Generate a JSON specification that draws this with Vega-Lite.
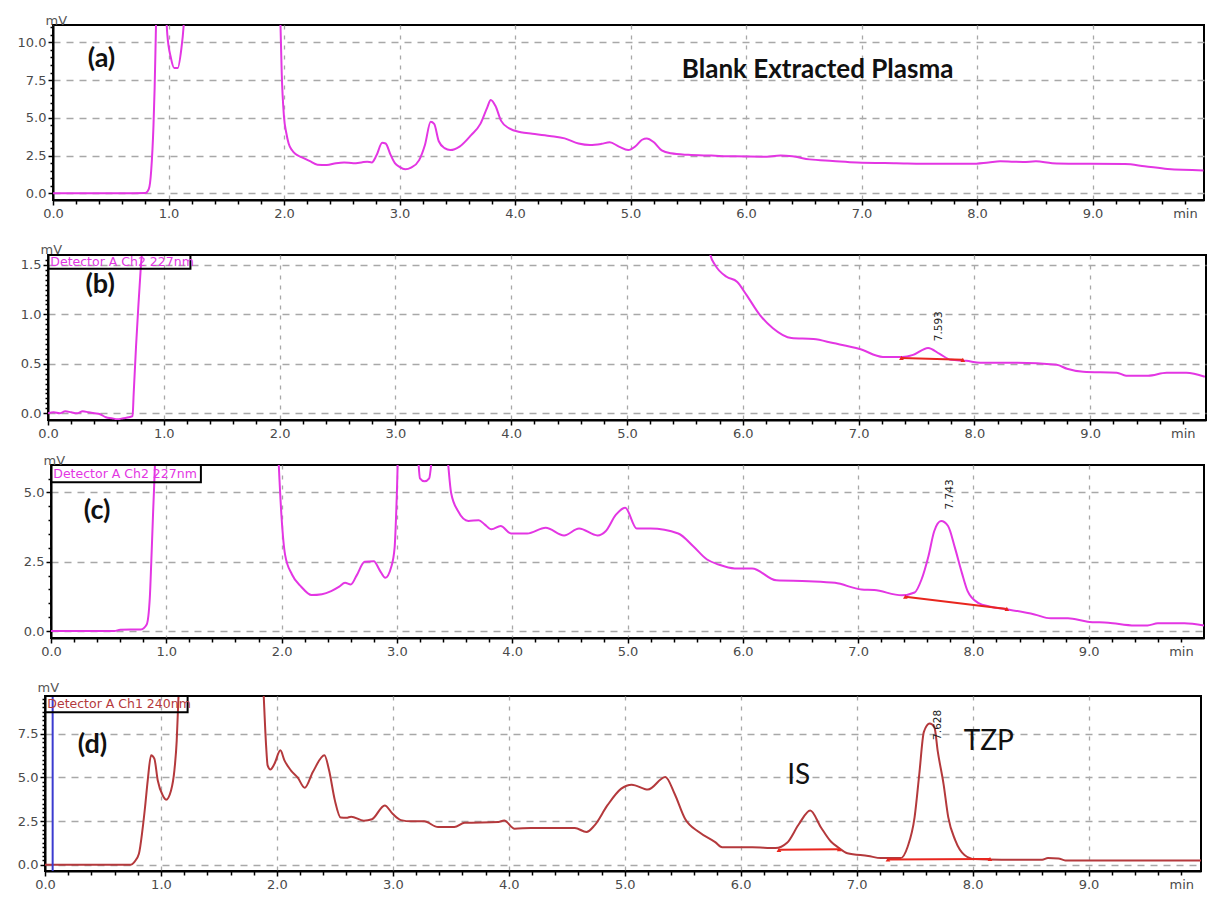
{
  "$schema": "https://vega.github.io/schema/vega-lite/v6.json",
  "background": "white",
  "padding": {"left": 5, "top": 13, "right": 0, "bottom": 0},
  "config": {
    "view": {"stroke": "#000", "strokeWidth": 2},
    "axis": {"domainColor": "#000", "domainWidth": 2, "tickColor": "#000", "tickWidth": 1.5, "labelFont": "DejaVu Sans", "labelFontSize": 13, "labelColor": "#4a4a4a", "gridColor": "#a8a8a8", "gridWidth": 1.3, "titleFont": "DejaVu Sans", "titleFontSize": 13, "titleFontWeight": "normal", "titleColor": "#555", "labelFlush": false, "labelOverlap": false}
  },
  "datasets": {
    "a": [{"t":0,"v":0},{"t":0.3,"v":0},{"t":0.6,"v":0},{"t":0.8,"v":0.02},{"t":0.83,"v":0.3},{"t":0.85,"v":1.5},{"t":0.87,"v":4.5},{"t":0.88,"v":7},{"t":0.89,"v":10.5},{"t":0.9,"v":14},{"t":0.93,"v":16},{"t":0.97,"v":13},{"t":0.99,"v":10.5},{"t":1.02,"v":9},{"t":1.05,"v":8.3},{"t":1.08,"v":8.3},{"t":1.11,"v":9.5},{"t":1.13,"v":11},{"t":1.15,"v":14},{"t":1.2,"v":30},{"t":1.5,"v":50},{"t":1.9,"v":30},{"t":1.95,"v":14},{"t":1.97,"v":11},{"t":1.98,"v":8},{"t":2.0,"v":5.05},{"t":2.02,"v":4.0},{"t":2.04,"v":3.3},{"t":2.07,"v":2.85},{"t":2.1,"v":2.6},{"t":2.15,"v":2.4},{"t":2.22,"v":2.15},{"t":2.29,"v":1.9},{"t":2.37,"v":1.88},{"t":2.45,"v":2.0},{"t":2.52,"v":2.05},{"t":2.6,"v":2.0},{"t":2.67,"v":2.05},{"t":2.72,"v":2.1},{"t":2.76,"v":2.05},{"t":2.8,"v":2.5},{"t":2.85,"v":3.35},{"t":2.88,"v":3.3},{"t":2.92,"v":2.6},{"t":2.96,"v":2.0},{"t":3.0,"v":1.75},{"t":3.05,"v":1.59},{"t":3.1,"v":1.7},{"t":3.17,"v":2.2},{"t":3.22,"v":3.2},{"t":3.27,"v":4.74},{"t":3.3,"v":4.6},{"t":3.34,"v":3.45},{"t":3.39,"v":3.0},{"t":3.44,"v":2.87},{"t":3.52,"v":3.1},{"t":3.62,"v":3.86},{"t":3.7,"v":4.6},{"t":3.76,"v":5.7},{"t":3.79,"v":6.18},{"t":3.83,"v":5.8},{"t":3.88,"v":4.8},{"t":3.95,"v":4.3},{"t":4.05,"v":4.05},{"t":4.15,"v":3.95},{"t":4.3,"v":3.8},{"t":4.43,"v":3.64},{"t":4.55,"v":3.3},{"t":4.65,"v":3.2},{"t":4.75,"v":3.28},{"t":4.82,"v":3.38},{"t":4.9,"v":3.1},{"t":4.98,"v":2.87},{"t":5.04,"v":3.1},{"t":5.1,"v":3.55},{"t":5.14,"v":3.64},{"t":5.2,"v":3.4},{"t":5.27,"v":2.85},{"t":5.35,"v":2.65},{"t":5.5,"v":2.55},{"t":5.7,"v":2.5},{"t":5.9,"v":2.45},{"t":6.15,"v":2.43},{"t":6.3,"v":2.5},{"t":6.4,"v":2.45},{"t":6.55,"v":2.25},{"t":6.75,"v":2.15},{"t":6.96,"v":2.05},{"t":7.3,"v":2.0},{"t":7.64,"v":1.96},{"t":7.95,"v":1.96},{"t":8.1,"v":2.05},{"t":8.2,"v":2.12},{"t":8.4,"v":2.08},{"t":8.51,"v":2.12},{"t":8.65,"v":2.0},{"t":8.87,"v":1.96},{"t":9.28,"v":1.94},{"t":9.45,"v":1.8},{"t":9.65,"v":1.61},{"t":9.96,"v":1.52}],
    "b": [{"t":0,"v":0.0},{"t":0.05,"v":0.01},{"t":0.1,"v":0.0},{"t":0.15,"v":0.02},{"t":0.2,"v":0.01},{"t":0.25,"v":0.0},{"t":0.3,"v":0.02},{"t":0.35,"v":0.01},{"t":0.4,"v":0.0},{"t":0.45,"v":-0.01},{"t":0.5,"v":-0.04},{"t":0.55,"v":-0.05},{"t":0.6,"v":-0.06},{"t":0.65,"v":-0.05},{"t":0.7,"v":-0.04},{"t":0.73,"v":-0.03},{"t":0.74,"v":0.2},{"t":0.76,"v":0.67},{"t":0.78,"v":1.08},{"t":0.8,"v":1.45},{"t":0.82,"v":1.8},{"t":0.85,"v":3},{"t":1.0,"v":10},{"t":5.0,"v":10},{"t":5.6,"v":3},{"t":5.72,"v":1.6},{"t":5.76,"v":1.5},{"t":5.86,"v":1.38},{"t":5.95,"v":1.33},{"t":6.03,"v":1.2},{"t":6.15,"v":0.99},{"t":6.26,"v":0.86},{"t":6.42,"v":0.76},{"t":6.61,"v":0.75},{"t":6.78,"v":0.71},{"t":7.01,"v":0.65},{"t":7.21,"v":0.57},{"t":7.38,"v":0.57},{"t":7.47,"v":0.59},{"t":7.6,"v":0.66},{"t":7.7,"v":0.6},{"t":7.8,"v":0.54},{"t":7.93,"v":0.53},{"t":8.05,"v":0.51},{"t":8.37,"v":0.51},{"t":8.71,"v":0.49},{"t":8.8,"v":0.45},{"t":8.94,"v":0.42},{"t":9.23,"v":0.41},{"t":9.31,"v":0.38},{"t":9.5,"v":0.38},{"t":9.66,"v":0.41},{"t":9.83,"v":0.41},{"t":9.99,"v":0.37}],
    "c": [{"t":0,"v":0},{"t":0.55,"v":0.0},{"t":0.6,"v":0.05},{"t":0.78,"v":0.06},{"t":0.83,"v":0.24},{"t":0.857,"v":1.2},{"t":0.87,"v":2.52},{"t":0.886,"v":4.33},{"t":0.906,"v":6.5},{"t":0.95,"v":15},{"t":1.5,"v":40},{"t":1.9,"v":15},{"t":1.97,"v":6.5},{"t":2.0,"v":4.08},{"t":2.03,"v":2.76},{"t":2.09,"v":2.04},{"t":2.17,"v":1.6},{"t":2.26,"v":1.3},{"t":2.35,"v":1.33},{"t":2.43,"v":1.44},{"t":2.5,"v":1.6},{"t":2.55,"v":1.74},{"t":2.6,"v":1.68},{"t":2.65,"v":2.0},{"t":2.72,"v":2.5},{"t":2.8,"v":2.52},{"t":2.85,"v":2.2},{"t":2.9,"v":1.92},{"t":2.95,"v":2.3},{"t":2.98,"v":3.0},{"t":3.0,"v":5},{"t":3.02,"v":8},{"t":3.1,"v":10},{"t":3.18,"v":6.5},{"t":3.2,"v":5.51},{"t":3.24,"v":5.4},{"t":3.28,"v":5.51},{"t":3.31,"v":6.5},{"t":3.38,"v":8},{"t":3.44,"v":6.2},{"t":3.47,"v":4.99},{"t":3.53,"v":4.33},{"t":3.62,"v":3.97},{"t":3.71,"v":4.0},{"t":3.76,"v":3.85},{"t":3.82,"v":3.67},{"t":3.9,"v":3.79},{"t":3.99,"v":3.52},{"t":4.13,"v":3.52},{"t":4.29,"v":3.73},{"t":4.45,"v":3.45},{"t":4.58,"v":3.7},{"t":4.74,"v":3.45},{"t":4.81,"v":3.6},{"t":4.9,"v":4.2},{"t":4.98,"v":4.45},{"t":5.08,"v":3.7},{"t":5.2,"v":3.7},{"t":5.44,"v":3.52},{"t":5.57,"v":3.06},{"t":5.69,"v":2.58},{"t":5.79,"v":2.4},{"t":5.93,"v":2.26},{"t":6.08,"v":2.26},{"t":6.29,"v":1.83},{"t":6.57,"v":1.8},{"t":6.8,"v":1.74},{"t":7.03,"v":1.5},{"t":7.14,"v":1.48},{"t":7.38,"v":1.29},{"t":7.49,"v":1.39},{"t":7.55,"v":1.86},{"t":7.61,"v":2.7},{"t":7.66,"v":3.6},{"t":7.72,"v":3.97},{"t":7.78,"v":3.79},{"t":7.84,"v":3.0},{"t":7.9,"v":2.1},{"t":7.95,"v":1.44},{"t":8.04,"v":1.02},{"t":8.15,"v":0.88},{"t":8.3,"v":0.78},{"t":8.53,"v":0.6},{"t":8.67,"v":0.46},{"t":8.82,"v":0.46},{"t":8.99,"v":0.34},{"t":9.17,"v":0.3},{"t":9.4,"v":0.2},{"t":9.51,"v":0.2},{"t":9.6,"v":0.28},{"t":9.83,"v":0.28},{"t":10.0,"v":0.2}],
    "d": [{"t":0,"v":0},{"t":0.74,"v":0.0},{"t":0.77,"v":0.15},{"t":0.81,"v":0.63},{"t":0.84,"v":1.96},{"t":0.863,"v":3.3},{"t":0.886,"v":4.83},{"t":0.915,"v":6.26},{"t":0.943,"v":6.07},{"t":0.972,"v":4.83},{"t":1.015,"v":3.97},{"t":1.044,"v":3.72},{"t":1.087,"v":4.25},{"t":1.116,"v":5.4},{"t":1.136,"v":7.1},{"t":1.15,"v":9.4},{"t":1.2,"v":15},{"t":1.5,"v":30},{"t":1.85,"v":15},{"t":1.884,"v":10},{"t":1.907,"v":6.8},{"t":1.92,"v":5.68},{"t":1.944,"v":5.45},{"t":1.979,"v":5.77},{"t":2.03,"v":6.54},{"t":2.065,"v":5.97},{"t":2.12,"v":5.4},{"t":2.18,"v":4.98},{"t":2.24,"v":4.4},{"t":2.31,"v":5.3},{"t":2.41,"v":6.26},{"t":2.45,"v":5.4},{"t":2.5,"v":3.68},{"t":2.55,"v":2.7},{"t":2.6,"v":2.68},{"t":2.64,"v":2.75},{"t":2.75,"v":2.52},{"t":2.82,"v":2.6},{"t":2.93,"v":3.39},{"t":3.0,"v":2.9},{"t":3.07,"v":2.55},{"t":3.16,"v":2.48},{"t":3.27,"v":2.48},{"t":3.39,"v":2.15},{"t":3.53,"v":2.15},{"t":3.62,"v":2.4},{"t":3.91,"v":2.44},{"t":3.96,"v":2.53},{"t":4.05,"v":2.06},{"t":4.19,"v":2.1},{"t":4.57,"v":2.1},{"t":4.67,"v":1.87},{"t":4.74,"v":2.25},{"t":4.85,"v":3.39},{"t":4.97,"v":4.35},{"t":5.06,"v":4.58},{"t":5.2,"v":4.3},{"t":5.35,"v":5.02},{"t":5.43,"v":4.06},{"t":5.52,"v":2.63},{"t":5.64,"v":1.87},{"t":5.78,"v":1.29},{"t":5.84,"v":1.0},{"t":6.1,"v":1.0},{"t":6.3,"v":0.95},{"t":6.4,"v":1.25},{"t":6.5,"v":2.3},{"t":6.6,"v":3.1},{"t":6.69,"v":2.16},{"t":6.78,"v":1.31},{"t":6.84,"v":1.0},{"t":6.92,"v":0.66},{"t":7.1,"v":0.5},{"t":7.21,"v":0.38},{"t":7.38,"v":0.38},{"t":7.44,"v":1.03},{"t":7.5,"v":2.72},{"t":7.54,"v":5.16},{"t":7.58,"v":7.6},{"t":7.63,"v":8.07},{"t":7.67,"v":7.88},{"t":7.7,"v":6.47},{"t":7.75,"v":4.6},{"t":7.79,"v":2.72},{"t":7.85,"v":1.41},{"t":7.93,"v":0.56},{"t":8.02,"v":0.32},{"t":8.25,"v":0.28},{"t":8.6,"v":0.28},{"t":8.65,"v":0.38},{"t":8.74,"v":0.36},{"t":8.8,"v":0.24},{"t":9.4,"v":0.24},{"t":9.97,"v":0.24}]
  },
  "spacing": 21,
  "vconcat": [
    {
      "spacing": 0,
      "hconcat": [
        {"width": 1, "height": 1, "view": {"stroke": null}, "data": {"values": []}, "mark": "point"},
        {
          "width": 1151, "height": 175,
          "resolve": {"axis": {"x": "independent", "y": "independent"}},
          "layer": [
            {"data": {"name": "a"}, "mark": {"type": "line", "color": "#e336e3", "strokeWidth": 2, "clip": true, "interpolate": "monotone"},
             "encoding": {
               "x": {"field": "t", "type": "quantitative", "scale": {"domain": [0, 9.965], "nice": false, "zero": false}, "axis": {"orient": "bottom", "values": [0,1,2,3,4,5,6,7,8,9], "format": ".1f", "tickSize": 5, "labelPadding": 2, "grid": true, "gridDash": [4,6], "title": null}},
               "y": {"field": "v", "type": "quantitative", "scale": {"domain": [-0.44, 11.15], "nice": false, "zero": false}, "axis": {"orient": "left", "values": [0,2.5,5,7.5,10], "format": ".1f", "tickSize": 5, "labelPadding": 2, "grid": true, "gridDash": [7,6], "title": "mV", "titleAngle": 0, "titleX": -8, "titleY": -1, "titleAlign": "left", "titleBaseline": "alphabetic", "minExtent": 46, "maxExtent": 46}}
             }},
            {"data": {"values": [{"t": 0.42, "v": 8.9, "label": "(a)"}]}, "mark": {"type": "text", "font": "Lato", "fontWeight": "bold", "fontSize": 27, "color": "#111", "align": "center", "baseline": "middle"},
             "encoding": {
               "x": {"field": "t", "type": "quantitative", "scale": {"domain": [0, 9.965], "nice": false, "zero": false}, "axis": {"orient": "bottom", "values": [0.2,0.4,0.6,0.8,1.2,1.4,1.6,1.8,2.2,2.4,2.6,2.8,3.2,3.4,3.6,3.8,4.2,4.4,4.6,4.8,5.2,5.4,5.6,5.8,6.2,6.4,6.6,6.8,7.2,7.4,7.6,7.8,8.2,8.4,8.6,8.8,9.2,9.4,9.6,9.8], "labelExpr": "datum.value == 9.8 ? 'min' : ''", "labelDx": 10, "tickSize": 4, "labelPadding": 3, "grid": false, "domain": false, "title": null}},
               "y": {"field": "v", "type": "quantitative", "scale": {"domain": [-0.44, 11.15], "nice": false, "zero": false}, "axis": {"orient": "left", "values": [0.5,1,1.5,2,3,3.5,4,4.5,5.5,6,6.5,7,8,8.5,9,9.5,10.5,11], "labels": false, "tickSize": 3, "grid": false, "domain": false, "title": null}},
               "text": {"field": "label"}
             }},
            {"data": {"values": [{"t": 6.62, "v": 8.2, "label": "Blank Extracted Plasma"}]}, "mark": {"type": "text", "font": "Lato", "fontWeight": "bold", "fontSize": 26, "color": "#111", "align": "center", "baseline": "middle"},
             "encoding": {
               "x": {"field": "t", "type": "quantitative", "scale": {"domain": [0, 9.965], "nice": false, "zero": false}, "axis": null},
               "y": {"field": "v", "type": "quantitative", "scale": {"domain": [-0.44, 11.15], "nice": false, "zero": false}, "axis": null},
               "text": {"field": "label"}
             }}
          ]
        }
      ]
    },
    {
      "spacing": 12,
      "vconcat": [
        {
          "spacing": 0,
          "hconcat": [
            {"width": 1, "height": 1, "view": {"stroke": null}, "data": {"values": []}, "mark": "point"},
            {
              "width": 1158, "height": 165,
              "resolve": {"axis": {"x": "independent", "y": "independent"}},
              "layer": [
                {"data": {"name": "b"}, "mark": {"type": "line", "color": "#e336e3", "strokeWidth": 2, "clip": true, "interpolate": "monotone"},
                 "encoding": {
                   "x": {"field": "t", "type": "quantitative", "scale": {"domain": [0, 10.0], "nice": false, "zero": false}, "axis": {"orient": "bottom", "values": [0,1,2,3,4,5,6,7,8,9], "format": ".1f", "tickSize": 5, "labelPadding": 2, "grid": true, "gridDash": [4,6], "title": null}},
                   "y": {"field": "v", "type": "quantitative", "scale": {"domain": [-0.068, 1.6], "nice": false, "zero": false}, "axis": {"orient": "left", "values": [0,0.5,1,1.5], "format": ".1f", "tickSize": 5, "labelPadding": 2, "grid": true, "gridDash": [7,6], "title": "mV", "titleAngle": 0, "titleX": -8, "titleY": -2, "titleAlign": "left", "titleBaseline": "alphabetic", "minExtent": 41, "maxExtent": 41}}
                 }},
                {"data": {"values": [{"t": 0.45, "v": 1.3, "label": "(b)"}]}, "mark": {"type": "text", "font": "Lato", "fontWeight": "bold", "fontSize": 27, "color": "#111", "align": "center", "baseline": "middle"},
                 "encoding": {
                   "x": {"field": "t", "type": "quantitative", "scale": {"domain": [0, 10.0], "nice": false, "zero": false}, "axis": {"orient": "bottom", "values": [0.2,0.4,0.6,0.8,1.2,1.4,1.6,1.8,2.2,2.4,2.6,2.8,3.2,3.4,3.6,3.8,4.2,4.4,4.6,4.8,5.2,5.4,5.6,5.8,6.2,6.4,6.6,6.8,7.2,7.4,7.6,7.8,8.2,8.4,8.6,8.8,9.2,9.4,9.6,9.8], "labelExpr": "datum.value == 9.8 ? 'min' : ''", "labelDx": 10, "tickSize": 4, "labelPadding": 3, "grid": false, "domain": false, "title": null}},
                   "y": {"field": "v", "type": "quantitative", "scale": {"domain": [-0.068, 1.6], "nice": false, "zero": false}, "axis": {"orient": "left", "values": [0.05,0.1,0.15,0.2,0.25,0.3,0.35,0.4,0.45,0.55,0.6,0.65,0.7,0.75,0.8,0.85,0.9,0.95,1.05,1.1,1.15,1.2,1.25,1.3,1.35,1.4,1.45,1.55], "labels": false, "tickSize": 3, "grid": false, "domain": false, "title": null}},
                   "text": {"field": "label"}
                 }},
                {"data": {"values": [{"t": 0, "t2": 1.23, "v": 1.6, "v2": 1.46}]}, "mark": {"type": "rect", "fillOpacity": 0, "stroke": "#000", "strokeWidth": 2, "clip": true},
                 "encoding": {
                   "x": {"field": "t", "type": "quantitative", "scale": {"domain": [0, 10.0], "nice": false, "zero": false}, "axis": null},
                   "x2": {"field": "t2"},
                   "y": {"field": "v", "type": "quantitative", "scale": {"domain": [-0.068, 1.6], "nice": false, "zero": false}, "axis": null},
                   "y2": {"field": "v2"}
                 }},
                {"data": {"values": [{"t": 0.02, "v": 1.53, "label": "Detector A Ch2 227nm"}]}, "mark": {"type": "text", "font": "DejaVu Sans", "fontSize": 12.5, "color": "#e336e3", "align": "left", "baseline": "middle", "clip": true},
                 "encoding": {
                   "x": {"field": "t", "type": "quantitative", "scale": {"domain": [0, 10.0], "nice": false, "zero": false}, "axis": null},
                   "y": {"field": "v", "type": "quantitative", "scale": {"domain": [-0.068, 1.6], "nice": false, "zero": false}, "axis": null},
                   "text": {"field": "label"}
                 }},
                {"data": {"values": [{"t": 7.37, "v": 0.56, "g": 1}, {"t": 7.9, "v": 0.54, "g": 1}]}, "mark": {"type": "line", "color": "#e8261e", "strokeWidth": 2, "clip": true},
                 "encoding": {
                   "x": {"field": "t", "type": "quantitative", "scale": {"domain": [0, 10.0], "nice": false, "zero": false}, "axis": null},
                   "y": {"field": "v", "type": "quantitative", "scale": {"domain": [-0.068, 1.6], "nice": false, "zero": false}, "axis": null},
                   "detail": {"field": "g"}
                 }},
                {"data": {"values": [{"t": 7.37, "v": 0.56}, {"t": 7.9, "v": 0.54}]}, "mark": {"type": "point", "shape": "triangle-up", "size": 22, "filled": true, "color": "#e8261e", "opacity": 1},
                 "encoding": {
                   "x": {"field": "t", "type": "quantitative", "scale": {"domain": [0, 10.0], "nice": false, "zero": false}, "axis": null},
                   "y": {"field": "v", "type": "quantitative", "scale": {"domain": [-0.068, 1.6], "nice": false, "zero": false}, "axis": null}
                 }},
                {"data": {"values": [{"t": 7.69, "v": 0.88, "label": "7.593"}]}, "mark": {"type": "text", "font": "DejaVu Sans", "fontSize": 10.5, "color": "#222", "angle": 270, "align": "center", "baseline": "middle"},
                 "encoding": {
                   "x": {"field": "t", "type": "quantitative", "scale": {"domain": [0, 10.0], "nice": false, "zero": false}, "axis": null},
                   "y": {"field": "v", "type": "quantitative", "scale": {"domain": [-0.068, 1.6], "nice": false, "zero": false}, "axis": null},
                   "text": {"field": "label"}
                 }}
              ]
            }
          ]
        },
        {
          "spacing": 0,
          "hconcat": [
            {"width": 1, "height": 1, "view": {"stroke": null}, "data": {"values": []}, "mark": "point"},
            {
              "width": 1153, "height": 173,
              "resolve": {"axis": {"x": "independent", "y": "independent"}},
              "layer": [
                {"data": {"name": "c"}, "mark": {"type": "line", "color": "#e336e3", "strokeWidth": 2, "clip": true, "interpolate": "monotone"},
                 "encoding": {
                   "x": {"field": "t", "type": "quantitative", "scale": {"domain": [0, 10.0], "nice": false, "zero": false}, "axis": {"orient": "bottom", "values": [0,1,2,3,4,5,6,7,8,9], "format": ".1f", "tickSize": 5, "labelPadding": 2, "grid": true, "gridDash": [4,6], "title": null}},
                   "y": {"field": "v", "type": "quantitative", "scale": {"domain": [-0.25, 5.99], "nice": false, "zero": false}, "axis": {"orient": "left", "values": [0,2.5,5], "format": ".1f", "tickSize": 5, "labelPadding": 2, "grid": true, "gridDash": [7,6], "title": "mV", "titleAngle": 0, "titleX": -8, "titleY": -1, "titleAlign": "left", "titleBaseline": "alphabetic", "minExtent": 43.5, "maxExtent": 43.5}}
                 }},
                {"data": {"values": [{"t": 0.4, "v": 4.33, "label": "(c)"}]}, "mark": {"type": "text", "font": "Lato", "fontWeight": "bold", "fontSize": 27, "color": "#111", "align": "center", "baseline": "middle"},
                 "encoding": {
                   "x": {"field": "t", "type": "quantitative", "scale": {"domain": [0, 10.0], "nice": false, "zero": false}, "axis": {"orient": "bottom", "values": [0.2,0.4,0.6,0.8,1.2,1.4,1.6,1.8,2.2,2.4,2.6,2.8,3.2,3.4,3.6,3.8,4.2,4.4,4.6,4.8,5.2,5.4,5.6,5.8,6.2,6.4,6.6,6.8,7.2,7.4,7.6,7.8,8.2,8.4,8.6,8.8,9.2,9.4,9.6,9.8], "labelExpr": "datum.value == 9.8 ? 'min' : ''", "labelDx": 10, "tickSize": 4, "labelPadding": 3, "grid": false, "domain": false, "title": null}},
                   "y": {"field": "v", "type": "quantitative", "scale": {"domain": [-0.25, 5.99], "nice": false, "zero": false}, "axis": {"orient": "left", "values": [0.5,1,1.5,2,3,3.5,4,4.5,5.5], "labels": false, "tickSize": 3, "grid": false, "domain": false, "title": null}},
                   "text": {"field": "label"}
                 }},
                {"data": {"values": [{"t": 0, "t2": 1.3, "v": 5.99, "v2": 5.37}]}, "mark": {"type": "rect", "fillOpacity": 0, "stroke": "#000", "strokeWidth": 2, "clip": true},
                 "encoding": {
                   "x": {"field": "t", "type": "quantitative", "scale": {"domain": [0, 10.0], "nice": false, "zero": false}, "axis": null},
                   "x2": {"field": "t2"},
                   "y": {"field": "v", "type": "quantitative", "scale": {"domain": [-0.25, 5.99], "nice": false, "zero": false}, "axis": null},
                   "y2": {"field": "v2"}
                 }},
                {"data": {"values": [{"t": 0.02, "v": 5.68, "label": "Detector A Ch2 227nm"}]}, "mark": {"type": "text", "font": "DejaVu Sans", "fontSize": 12.5, "color": "#e336e3", "align": "left", "baseline": "middle", "clip": true},
                 "encoding": {
                   "x": {"field": "t", "type": "quantitative", "scale": {"domain": [0, 10.0], "nice": false, "zero": false}, "axis": null},
                   "y": {"field": "v", "type": "quantitative", "scale": {"domain": [-0.25, 5.99], "nice": false, "zero": false}, "axis": null},
                   "text": {"field": "label"}
                 }},
                {"data": {"values": [{"t": 7.41, "v": 1.24, "g": 1}, {"t": 8.29, "v": 0.8, "g": 1}]}, "mark": {"type": "line", "color": "#e8261e", "strokeWidth": 2, "clip": true},
                 "encoding": {
                   "x": {"field": "t", "type": "quantitative", "scale": {"domain": [0, 10.0], "nice": false, "zero": false}, "axis": null},
                   "y": {"field": "v", "type": "quantitative", "scale": {"domain": [-0.25, 5.99], "nice": false, "zero": false}, "axis": null},
                   "detail": {"field": "g"}
                 }},
                {"data": {"values": [{"t": 7.41, "v": 1.24}, {"t": 8.29, "v": 0.8}]}, "mark": {"type": "point", "shape": "triangle-up", "size": 22, "filled": true, "color": "#e8261e", "opacity": 1},
                 "encoding": {
                   "x": {"field": "t", "type": "quantitative", "scale": {"domain": [0, 10.0], "nice": false, "zero": false}, "axis": null},
                   "y": {"field": "v", "type": "quantitative", "scale": {"domain": [-0.25, 5.99], "nice": false, "zero": false}, "axis": null}
                 }},
                {"data": {"values": [{"t": 7.8, "v": 4.93, "label": "7.743"}]}, "mark": {"type": "text", "font": "DejaVu Sans", "fontSize": 10.5, "color": "#222", "angle": 270, "align": "center", "baseline": "middle"},
                 "encoding": {
                   "x": {"field": "t", "type": "quantitative", "scale": {"domain": [0, 10.0], "nice": false, "zero": false}, "axis": null},
                   "y": {"field": "v", "type": "quantitative", "scale": {"domain": [-0.25, 5.99], "nice": false, "zero": false}, "axis": null},
                   "text": {"field": "label"}
                 }}
              ]
            }
          ]
        }
      ]
    },
    {
      "spacing": 0,
      "hconcat": [
        {"width": 1, "height": 1, "view": {"stroke": null}, "data": {"values": []}, "mark": "point"},
        {
          "width": 1156, "height": 175,
          "resolve": {"axis": {"x": "independent", "y": "independent"}},
          "layer": [
            {"data": {"name": "d"}, "mark": {"type": "line", "color": "#b4393c", "strokeWidth": 2, "clip": true, "interpolate": "monotone"},
             "encoding": {
               "x": {"field": "t", "type": "quantitative", "scale": {"domain": [0, 9.97], "nice": false, "zero": false}, "axis": {"orient": "bottom", "values": [0,1,2,3,4,5,6,7,8,9], "format": ".1f", "tickSize": 5, "labelPadding": 2, "grid": true, "gridDash": [4,6], "title": null}},
               "y": {"field": "v", "type": "quantitative", "scale": {"domain": [-0.36, 9.65], "nice": false, "zero": false}, "axis": {"orient": "left", "values": [0,2.5,5,7.5], "format": ".1f", "tickSize": 5, "labelPadding": 2, "grid": true, "gridDash": [7,6], "title": "mV", "titleAngle": 0, "titleX": -8, "titleY": -5, "titleAlign": "left", "titleBaseline": "alphabetic", "minExtent": 38, "maxExtent": 38}}
             }},
            {"data": {"values": [{"t": 0.41, "v": 6.83, "label": "(d)"}]}, "mark": {"type": "text", "font": "Lato", "fontWeight": "bold", "fontSize": 27, "color": "#111", "align": "center", "baseline": "middle"},
             "encoding": {
               "x": {"field": "t", "type": "quantitative", "scale": {"domain": [0, 9.97], "nice": false, "zero": false}, "axis": {"orient": "bottom", "values": [0.2,0.4,0.6,0.8,1.2,1.4,1.6,1.8,2.2,2.4,2.6,2.8,3.2,3.4,3.6,3.8,4.2,4.4,4.6,4.8,5.2,5.4,5.6,5.8,6.2,6.4,6.6,6.8,7.2,7.4,7.6,7.8,8.2,8.4,8.6,8.8,9.2,9.4,9.6,9.8], "labelExpr": "datum.value == 9.8 ? 'min' : ''", "labelDx": 10, "tickSize": 4, "labelPadding": 3, "grid": false, "domain": false, "title": null}},
               "y": {"field": "v", "type": "quantitative", "scale": {"domain": [-0.36, 9.65], "nice": false, "zero": false}, "axis": {"orient": "left", "values": [0.25,0.5,0.75,1,1.25,1.5,1.75,2,2.25,2.75,3,3.25,3.5,3.75,4,4.25,4.5,4.75,5.25,5.5,5.75,6,6.25,6.5,6.75,7,7.25,7.75,8,8.25,8.5,8.75,9,9.25,9.5], "labels": false, "tickSize": 3, "grid": false, "domain": false, "title": null}},
               "text": {"field": "label"}
             }},
            {"data": {"values": [{"t": 0.066, "v": -0.36, "v2": 9.65}]}, "mark": {"type": "rule", "color": "#3b3bd0", "strokeWidth": 2, "clip": true},
             "encoding": {
               "x": {"field": "t", "type": "quantitative", "scale": {"domain": [0, 9.97], "nice": false, "zero": false}, "axis": null},
               "y": {"field": "v", "type": "quantitative", "scale": {"domain": [-0.36, 9.65], "nice": false, "zero": false}, "axis": null},
               "y2": {"field": "v2"}
             }},
            {"data": {"values": [{"t": 0, "t2": 1.23, "v": 9.65, "v2": 8.72}]}, "mark": {"type": "rect", "fillOpacity": 0, "stroke": "#000", "strokeWidth": 2, "clip": true},
             "encoding": {
               "x": {"field": "t", "type": "quantitative", "scale": {"domain": [0, 9.97], "nice": false, "zero": false}, "axis": null},
               "x2": {"field": "t2"},
               "y": {"field": "v", "type": "quantitative", "scale": {"domain": [-0.36, 9.65], "nice": false, "zero": false}, "axis": null},
               "y2": {"field": "v2"}
             }},
            {"data": {"values": [{"t": 0.02, "v": 9.2, "label": "Detector A Ch1 240nm"}]}, "mark": {"type": "text", "font": "DejaVu Sans", "fontSize": 12.5, "color": "#b4393c", "align": "left", "baseline": "middle", "clip": true},
             "encoding": {
               "x": {"field": "t", "type": "quantitative", "scale": {"domain": [0, 9.97], "nice": false, "zero": false}, "axis": null},
               "y": {"field": "v", "type": "quantitative", "scale": {"domain": [-0.36, 9.65], "nice": false, "zero": false}, "axis": null},
               "text": {"field": "label"}
             }},
            {"data": {"values": [{"t": 6.33, "v": 0.85, "g": 1}, {"t": 6.85, "v": 0.88, "g": 1}, {"t": 7.27, "v": 0.3, "g": 2}, {"t": 8.15, "v": 0.33, "g": 2}]}, "mark": {"type": "line", "color": "#e8261e", "strokeWidth": 2, "clip": true},
             "encoding": {
               "x": {"field": "t", "type": "quantitative", "scale": {"domain": [0, 9.97], "nice": false, "zero": false}, "axis": null},
               "y": {"field": "v", "type": "quantitative", "scale": {"domain": [-0.36, 9.65], "nice": false, "zero": false}, "axis": null},
               "detail": {"field": "g"}
             }},
            {"data": {"values": [{"t": 6.33, "v": 0.85}, {"t": 6.85, "v": 0.88}, {"t": 7.27, "v": 0.3}, {"t": 8.15, "v": 0.33}]}, "mark": {"type": "point", "shape": "triangle-up", "size": 22, "filled": true, "color": "#e8261e", "opacity": 1},
             "encoding": {
               "x": {"field": "t", "type": "quantitative", "scale": {"domain": [0, 9.97], "nice": false, "zero": false}, "axis": null},
               "y": {"field": "v", "type": "quantitative", "scale": {"domain": [-0.36, 9.65], "nice": false, "zero": false}, "axis": null}
             }},
            {"data": {"values": [{"t": 7.7, "v": 8.0, "label": "7.628"}]}, "mark": {"type": "text", "font": "DejaVu Sans", "fontSize": 10.5, "color": "#222", "angle": 270, "align": "center", "baseline": "middle"},
             "encoding": {
               "x": {"field": "t", "type": "quantitative", "scale": {"domain": [0, 9.97], "nice": false, "zero": false}, "axis": null},
               "y": {"field": "v", "type": "quantitative", "scale": {"domain": [-0.36, 9.65], "nice": false, "zero": false}, "axis": null},
               "text": {"field": "label"}
             }},
            {"data": {"values": [{"t": 6.5, "v": 5.05, "label": "IS"}, {"t": 8.14, "v": 7.03, "label": "TZP"}]}, "mark": {"type": "text", "font": "Lato", "fontSize": 28, "color": "#111", "align": "center", "baseline": "middle"},
             "encoding": {
               "x": {"field": "t", "type": "quantitative", "scale": {"domain": [0, 9.97], "nice": false, "zero": false}, "axis": null},
               "y": {"field": "v", "type": "quantitative", "scale": {"domain": [-0.36, 9.65], "nice": false, "zero": false}, "axis": null},
               "text": {"field": "label"}
             }}
          ]
        }
      ]
    }
  ]
}
